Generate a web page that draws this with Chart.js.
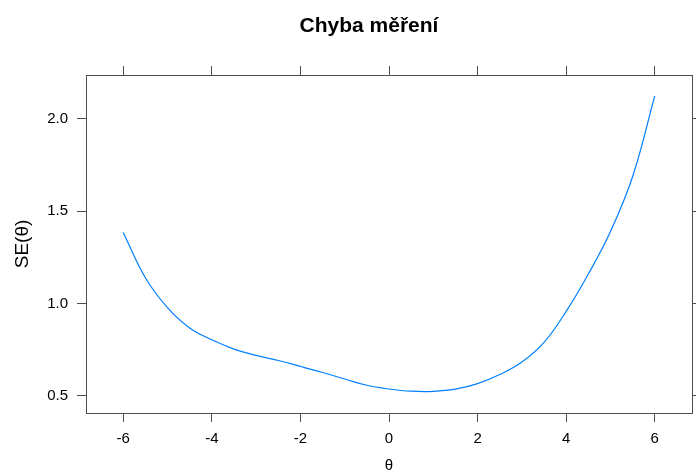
<!DOCTYPE html>
<html>
<head>
<meta charset="utf-8">
<script src="https://cdn.jsdelivr.net/npm/chart.js@4/dist/chart.umd.min.js"></script>
<style>
    html, body { margin: 0; padding: 0; background: #fff; }
    canvas { display: block; }
</style>
</head>
<body>
<canvas id="seChart" width="696" height="470"></canvas>
<script>
// Dados
const thetaValues = [-6, -5.5, -5, -4.5, -4, -3.5, -3, -2.5, -2, -1.5, -1, -0.5, 0,
                     0.5, 1, 1.5, 2, 2.5, 3, 3.5, 4, 4.5, 5, 5.5, 6];
const seValues = [1.385, 1.14, 0.978, 0.868, 0.804, 0.754, 0.72, 0.692, 0.66, 0.627, 0.592, 0.558, 0.538,
                  0.526, 0.525, 0.537, 0.567, 0.616, 0.684, 0.79, 0.958, 1.16, 1.39, 1.688, 2.124];
const xTicks = [-6, -4, -2, 0, 2, 4, 6];
const yTicks = [0.5, 1.0, 1.5, 2.0];
const chartTitle = 'Chyba měření';
const xLabel = 'θ';
const yLabel = 'SE(θ)';

const axisColor = '#4d4d4d';
const fontFamily = '"Liberation Sans", Arial, sans-serif';

// Título centralizado como no original
const titlePlugin = {
    id: 'latticeTitle',
    afterDraw(chart) {
        const c = chart.ctx;
        c.save();
        c.font = 'bold 21px ' + fontFamily;
        c.fillStyle = '#000';
        c.textAlign = 'center';
        c.textBaseline = 'alphabetic';
        c.fillText(chartTitle, 369, 32);
        c.restore();
    }
};

function fixedSize(size) {
    return function(scale) {
        if (scale.isHorizontal()) scale.height = size;
        else scale.width = size;
    };
}

function setTicks(values) {
    return function(scale) {
        scale.ticks = values.map(v => ({ value: v }));
    };
}

const gridOpts = {
    display: true,
    drawOnChartArea: false,
    drawTicks: true,
    tickLength: 9,
    color: axisColor,
    lineWidth: 1
};
const borderOpts = { display: true, color: axisColor, width: 1 };

const ctx = document.getElementById('seChart').getContext('2d');
new Chart(ctx, {
    type: 'line',
    data: {
        datasets: [{
            data: thetaValues.map((t, i) => ({ x: t, y: seValues[i] })),
            borderColor: '#0080ff',
            borderWidth: 1.2,
            pointRadius: 0,
            fill: false,
            tension: 0.4
        }]
    },
    options: {
        responsive: false,
        devicePixelRatio: 1,
        animation: false,
        layout: { padding: 0 },
        plugins: {
            legend: { display: false },
            tooltip: { enabled: false },
            title: { display: false }
        },
        scales: {
            x: {
                type: 'linear',
                position: 'bottom',
                min: -6.84,
                max: 6.84,
                afterBuildTicks: setTicks(xTicks),
                afterFit: fixedSize(57),
                grid: gridOpts,
                border: borderOpts,
                ticks: {
                    padding: 8,
                    color: '#000',
                    font: { family: fontFamily, size: 15 },
                    callback: v => String(v)
                },
                title: {
                    display: true,
                    text: xLabel,
                    color: '#000',
                    font: { family: fontFamily, size: 15, lineHeight: 1 },
                    padding: { top: 0, bottom: -3 }
                }
            },
            x2: {
                type: 'linear',
                position: 'top',
                min: -6.84,
                max: 6.84,
                afterBuildTicks: setTicks(xTicks),
                afterFit: fixedSize(75),
                grid: gridOpts,
                border: borderOpts,
                ticks: { display: false }
            },
            y: {
                type: 'linear',
                position: 'left',
                min: 0.408,
                max: 2.237,
                afterBuildTicks: setTicks(yTicks),
                afterFit: fixedSize(86),
                grid: gridOpts,
                border: borderOpts,
                ticks: {
                    padding: 9,
                    color: '#000',
                    font: { family: fontFamily, size: 15 },
                    callback: v => Number(v).toFixed(1)
                },
                title: {
                    display: true,
                    text: yLabel,
                    color: '#000',
                    font: { family: fontFamily, size: 19, lineHeight: 1.2 },
                    padding: { top: 11, bottom: 0 }
                }
            },
            y2: {
                type: 'linear',
                position: 'right',
                min: 0.408,
                max: 2.237,
                afterBuildTicks: setTicks(yTicks),
                afterFit: fixedSize(4),
                grid: gridOpts,
                border: borderOpts,
                ticks: { display: false }
            }
        }
    },
    plugins: [titlePlugin]
});
</script>
</body>
</html>
